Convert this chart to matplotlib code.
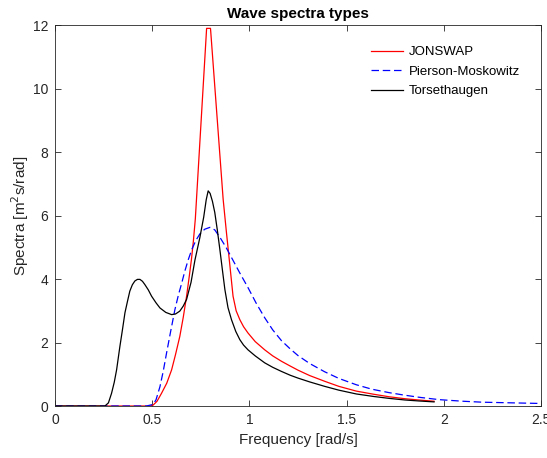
import matplotlib
matplotlib.use('Agg')
import matplotlib.pyplot as plt

# values
jonswap_w = [0, 0.49, 0.505, 0.525, 0.548, 0.575, 0.60, 0.62, 0.642, 0.66, 0.677,
             0.69, 0.702, 0.712, 0.722, 0.78, 0.80, 0.865, 0.882, 0.90, 0.916,
             0.932, 0.951, 0.97, 0.993, 1.03, 1.079, 1.12, 1.165, 1.21, 1.25,
             1.31, 1.387, 1.46, 1.55, 1.64, 1.72, 1.80, 1.87, 1.95]
jonswap_s = [0, 0, 0.03, 0.15, 0.40, 0.72, 1.14, 1.62, 2.19, 2.8, 3.46,
             4.05, 4.62, 5.2, 5.9, 11.9, 11.9, 6.52, 5.47, 4.41, 3.46,
             3.0, 2.72, 2.5, 2.30, 2.03, 1.77, 1.58, 1.41, 1.26, 1.13,
             0.96, 0.78, 0.62, 0.47, 0.37, 0.29, 0.23, 0.19, 0.15]

pm_w = [0, 0.47, 0.505, 0.52, 0.54, 0.557, 0.574, 0.595, 0.617, 0.635, 0.651,
        0.668, 0.685, 0.705, 0.725, 0.745, 0.77, 0.797, 0.822, 0.85, 0.88,
        0.908, 0.95, 0.993, 1.035, 1.079, 1.12, 1.165, 1.21, 1.25, 1.31,
        1.387, 1.46, 1.55, 1.63, 1.72, 1.80, 1.88, 1.978, 2.1, 2.2, 2.35, 2.5]
pm_s = [0, 0, 0.05, 0.2, 0.61, 1.1, 1.67, 2.35, 3.04, 3.5, 3.85,
        4.25, 4.6, 4.95, 5.22, 5.42, 5.57, 5.63, 5.55, 5.3, 5.0,
        4.68, 4.2, 3.73, 3.24, 2.78, 2.40, 2.06, 1.80, 1.59, 1.34,
        1.08, 0.87, 0.67, 0.53, 0.42, 0.34, 0.27, 0.20, 0.15, 0.12, 0.10, 0.08]

tors_w = [0, 0.2, 0.257, 0.275, 0.291, 0.305, 0.317, 0.334, 0.347, 0.36, 0.373,
          0.385, 0.398, 0.411, 0.424, 0.437, 0.45, 0.462, 0.48, 0.497, 0.52,
          0.54, 0.57, 0.60, 0.62, 0.642, 0.66, 0.677, 0.70, 0.72, 0.745,
          0.765, 0.778, 0.788, 0.798, 0.81, 0.822, 0.835, 0.848, 0.861, 0.874,
          0.89, 0.908, 0.93, 0.951, 0.97, 0.993, 1.03, 1.079, 1.12, 1.165,
          1.21, 1.25, 1.31, 1.387, 1.46, 1.55, 1.64, 1.72, 1.80, 1.87, 1.95]
tors_s = [0, 0, 0, 0.1, 0.40, 0.75, 1.14, 1.88, 2.4, 2.94, 3.3,
          3.62, 3.82, 3.94, 3.99, 3.99, 3.93, 3.83, 3.66, 3.46, 3.25,
          3.09, 2.95, 2.88, 2.9, 2.99, 3.15, 3.36, 3.9, 4.6, 5.3,
          5.95, 6.5, 6.78, 6.7, 6.45, 6.1, 5.55, 4.94, 4.3, 3.67,
          3.1, 2.72, 2.35, 2.09, 1.92, 1.77, 1.58, 1.36, 1.22, 1.09,
          0.97, 0.88, 0.76, 0.62, 0.50, 0.38, 0.30, 0.24, 0.19, 0.16, 0.13]

x_ticks = [0, 0.5, 1, 1.5, 2, 2.5]
x_labels = ['0', '0.5', '1', '1.5', '2', '2.5']
y_ticks = [0, 2, 4, 6, 8, 10, 12]

plt.rcParams['font.family'] = ['Liberation Sans', 'DejaVu Sans']
edge = '#262626'

fig = plt.figure(figsize=(5.47, 4.58), dpi=100)
ax = fig.add_axes([0.1005, 0.1135, 0.8885, 0.8315])

ax.plot(jonswap_w, jonswap_s, color='#ff0000', lw=0.9, label='JONSWAP')
ax.plot(pm_w, pm_s, color='#0000ff', lw=0.9, dashes=(6, 3), label='Pierson-Moskowitz')
ax.plot(tors_w, tors_s, color='black', lw=0.9, label='Torsethaugen')

ax.set_xlim(0, 2.5)
ax.set_ylim(0, 12)
ax.set_xticks(x_ticks)
ax.set_xticklabels(x_labels)
ax.set_yticks(y_ticks)
ax.tick_params(direction='in', top=True, right=True, length=4, width=0.6,
               colors=edge, labelsize=10, pad=5)
for s in ax.spines.values():
    s.set_color(edge)
    s.set_linewidth(0.6)

ax.set_xlabel('Frequency [rad/s]', fontsize=11, color=edge)
ax.set_ylabel('Spectra [m$^2$s/rad]', fontsize=11, color=edge, labelpad=1)
ax.set_title('Wave spectra types', fontsize=11, fontweight='bold', pad=5)

ax.legend(loc='upper right', frameon=False, fontsize=9.5, handlelength=2.4,
          handletextpad=0.5, labelspacing=0.55, bbox_to_anchor=(0.982, 0.976))

fig.savefig('out.png', dpi=100)
